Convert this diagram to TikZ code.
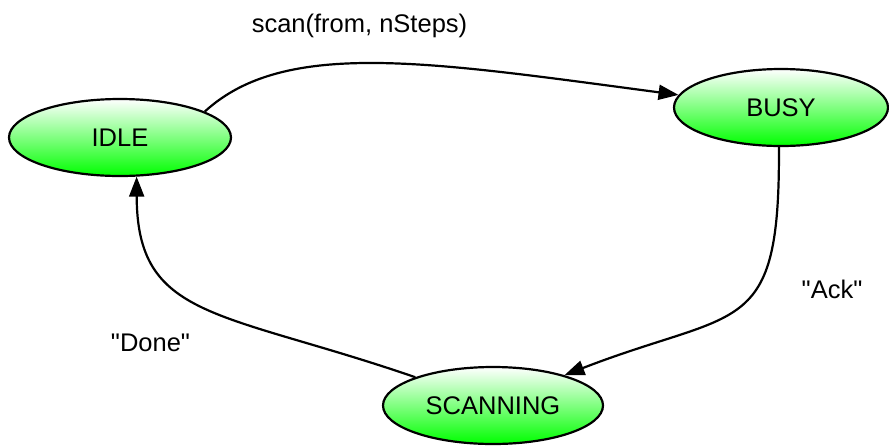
\documentclass[tikz,border=0pt]{standalone}
\usepackage{fontspec}
\setmainfont{Liberation Sans}[Ligatures=TeXOff]
\usetikzlibrary{shapes.geometric,arrows.meta}
\begin{document}
\begin{tikzpicture}[x=1pt,y=-1pt,
  state/.style={ellipse,draw=black,line width=2.2pt,top color=white,bottom color={rgb,1:red,0;green,1;blue,0},
    minimum height=77pt,inner sep=0pt,font=\fontsize{25.5}{30}\selectfont},
  edge/.style={line width=2.2pt,-{Triangle[length=20pt,width=15pt]}},
  lab/.style={anchor=base,inner sep=0pt,font=\fontsize{25.5}{30}\selectfont}]
\useasboundingbox (0,0) rectangle (889,445);
\node[state,minimum width=222pt] (IDLE) at (120,137.5) {IDLE};
\node[state,minimum width=214pt] (BUSY) at (781,107.5) {BUSY};
\node[state,minimum width=220pt] (SCAN) at (493,405.5) {SCANNING};
\draw[edge] (IDLE.17) .. controls (285,38) and (430,62) .. (BUSY.173);
\draw[edge] (BUSY.267) .. controls (780,340) and (740,307) .. (SCAN.23);
\draw[edge] (SCAN.160) .. controls (220,310) and (137,320) .. (IDLE.293);
\node[lab] (l1) at (359.5,32) {scan(from, nSteps)};
\node[lab] (l2) at (832,298) {"Ack"};
\node[lab] (l3) at (150.5,351) {"Done"};
\end{tikzpicture}
\end{document}
